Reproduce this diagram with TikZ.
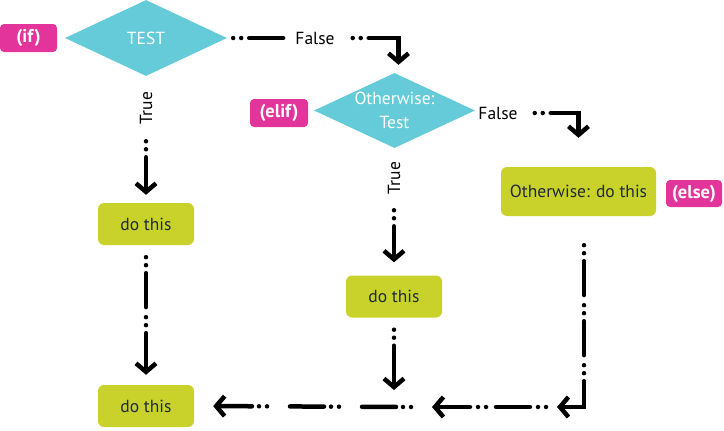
\documentclass[tikz,border=0pt]{standalone}
\usepackage{fontspec}
\setmainfont{PT Sans}
\usetikzlibrary{arrows.meta,shapes.geometric}
\definecolor{testcyan}{HTML}{66CBD9}
\definecolor{dolime}{HTML}{C9D22B}
\definecolor{tagpink}{HTML}{E2349B}
\definecolor{doink}{HTML}{1F2B38}

\begin{document}
\begin{tikzpicture}[x=1pt,y=-1pt,
  font=\fontsize{17.5}{24}\selectfont,
  test/.style={diamond,fill=testcyan,text=white,inner sep=-6pt,aspect=2.15,align=center,minimum width=162pt,minimum height=76pt},
  dobox/.style={rectangle,rounded corners=6pt,fill=dolime,text=doink,minimum width=96pt,minimum height=42pt},
  tag/.style={rectangle,rounded corners=4pt,fill=tagpink,text=white,font=\fontsize{18.5}{20}\selectfont\bfseries,inner sep=1pt,minimum width=57pt,minimum height=28pt},
  lbl/.style={inner sep=2pt,text=black},
  link/.style={line width=4.5pt,line cap=round},
  lead/.style={link,dash pattern=on 0pt off 8pt on 0pt off 8pt on 400pt},
  chain/.style={link,dash pattern=on 0pt off 8pt on 0pt off 8pt on 34pt off 10pt},
  tip/.style={-{Straight Barb[length=8.5pt,width=20pt]}}]
% if / elif / else flow, pixel coordinates, y grows downwards
\useasboundingbox (0,0) rectangle (724,431);
\node[test] (test) at (146,38) {TEST};
\node[tag] (iftag) at (28.5,38) {(if)};
\node[lbl] (f1) at (315,38) {False};
\node[test,minimum width=161pt,minimum height=75pt] (elif) at (394.5,110.5) {Otherwise:\\Test};
\node[tag,minimum width=58pt] (eliftag) at (279,113) {(elif)};
\node[lbl] (f2) at (498,113) {False};
\node[dobox,minimum width=155pt,minimum height=49pt] (els) at (578.5,191.5) {Otherwise: do this};
\node[tag,minimum width=56pt,minimum height=27pt] (elsetag) at (694,193.5) {(else)};
\node[lbl,rotate=90] (t1) at (146,108) {True};
\node[lbl,rotate=90] (t2) at (394,178) {True};
\node[dobox] (do1) at (146,224) {do this};
\node[dobox] (do2) at (394,296.5) {do this};
\node[dobox] (do3) at (146,406) {do this};
\coordinate (corner) at (584,407);
\coordinate (merge) at (394,407);
% branches
\draw[chain,shorten <=6pt,shorten >=2pt] (test.east) -- (f1.west);
\draw[lead,tip,shorten <=16pt,shorten >=8pt] (f1.east) -| ([xshift=4pt]elif.north);
\draw[lead,tip,shorten <=15pt,shorten >=29pt] (f2.east) -| (els.north);
\draw[lead,tip,shorten <=15pt,shorten >=8pt] (t1) -- (do1);
\draw[lead,tip,shorten <=14pt,shorten >=13pt] (t2) -- (do2);
\draw[chain,tip,shorten <=12pt,shorten >=10pt] (do1) -- (do3);
\draw[lead,tip,shorten <=12pt,shorten >=17pt] (do2) -- (merge);
% bottom run back to the left
\draw[link,tip,shorten <=29pt,dash pattern=on 0pt off 8pt on 0pt off 8pt on 34pt off 10pt on 0pt off 8pt on 0pt off 8pt on 34pt off 10pt on 0pt off 8pt on 0pt off 8pt on 400pt]
  (els.south -| corner) -- (corner) -- ([xshift=-27pt]corner);
\draw[chain,tip] ([xshift=-38pt]corner) -- ([xshift=38pt]merge);
\draw[link,tip,shorten >=19pt,dash pattern=on 0pt off 8pt on 0pt off 7pt on 34pt off 23pt]
  ([xshift=17pt]merge) -- (do3.east);
\end{tikzpicture}
\end{document}
